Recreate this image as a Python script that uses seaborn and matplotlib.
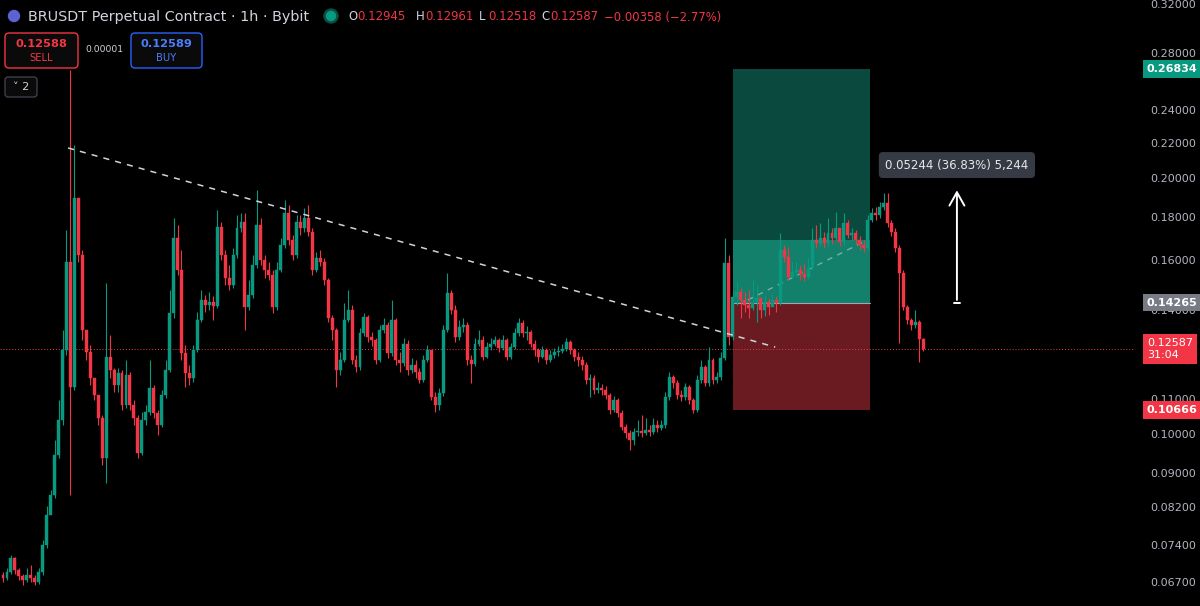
import matplotlib
matplotlib.use("Agg")
import matplotlib.pyplot as plt
import matplotlib.transforms as mtransforms
from matplotlib.patches import Rectangle, FancyBboxPatch, Circle
import numpy as np
import pandas as pd
import seaborn as sns

# ---- data (1h candles) ----
first_open = 0.0683
closes = [
    0.0678, 0.0688, 0.0715, 0.0692, 0.0681, 0.0674, 0.0683, 0.0678, 0.0670, 0.0688,
    0.0741, 0.0803, 0.0847, 0.0945, 0.1038, 0.1255, 0.1592, 0.1135, 0.1893, 0.1623,
    0.1325, 0.1248, 0.1163, 0.1111, 0.1044, 0.0937, 0.1231, 0.1189, 0.1141, 0.1179,
    0.1082, 0.1173, 0.1082, 0.1044, 0.0950, 0.1038, 0.1061, 0.1132, 0.1058, 0.1025,
    0.1111, 0.1189, 0.1387, 0.1699, 0.1558, 0.1245, 0.1179, 0.1163, 0.1255, 0.1361,
    0.1437, 0.1418, 0.1429, 0.1414, 0.1750, 0.1623, 0.1525, 0.1496, 0.1623, 0.1745,
    0.1774, 0.1410, 0.1456, 0.1580, 0.1760, 0.1601, 0.1558, 0.1537, 0.1410, 0.1558,
    0.1667, 0.1818, 0.1690, 0.1623, 0.1774, 0.1745, 0.1794, 0.1727, 0.1558, 0.1610,
    0.1592, 0.1517, 0.1369, 0.1325, 0.1189, 0.1221, 0.1361, 0.1398, 0.1221, 0.1199,
    0.1314, 0.1373, 0.1300, 0.1289, 0.1221, 0.1325, 0.1343, 0.1245, 0.1361, 0.1221,
    0.1211, 0.1276, 0.1189, 0.1205, 0.1182, 0.1157, 0.1221, 0.1255, 0.1105, 0.1082,
    0.1117, 0.1325, 0.1464, 0.1398, 0.1300, 0.1336, 0.1343, 0.1221, 0.1208, 0.1276,
    0.1289, 0.1231, 0.1265, 0.1276, 0.1289, 0.1262, 0.1289, 0.1231, 0.1265, 0.1314,
    0.1350, 0.1314, 0.1318, 0.1276, 0.1255, 0.1231, 0.1255, 0.1221, 0.1238, 0.1248,
    0.1251, 0.1258, 0.1282, 0.1255, 0.1231, 0.1221, 0.1205, 0.1157, 0.1163, 0.1126,
    0.1132, 0.1126, 0.1111, 0.1067, 0.1096, 0.1058, 0.1018, 0.1002, 0.0984, 0.1005,
    0.1008, 0.1002, 0.1011, 0.1005, 0.1025, 0.1016, 0.1025, 0.1105, 0.1166, 0.1147,
    0.1111, 0.1105, 0.1135, 0.1096, 0.1067, 0.1157, 0.1199, 0.1147, 0.1221, 0.1157,
    0.1166, 0.1228, 0.1588, 0.1300, 0.1449, 0.1468, 0.1437, 0.1418, 0.1406, 0.1429,
    0.1445, 0.1398, 0.1429, 0.1410, 0.1437, 0.1425, 0.1645, 0.1614, 0.1530, 0.1550,
    0.1558, 0.1541, 0.1530, 0.1567, 0.1690, 0.1676, 0.1699, 0.1676, 0.1722, 0.1699,
    0.1745, 0.1681, 0.1769, 0.1713, 0.1722, 0.1690, 0.1667, 0.1654, 0.1784, 0.1818,
    0.1808, 0.1848, 0.1868, 0.1769, 0.1727, 0.1654, 0.1546, 0.1410, 0.1361, 0.1343,
    0.1354, 0.12945, 0.12587,
]
highs = [
    0.0688, 0.0696, 0.0721, 0.0717, 0.0696, 0.0685, 0.0696, 0.0702, 0.0683, 0.0696,
    0.0751, 0.0824, 0.0859, 0.0984, 0.1096, 0.1325, 0.1736, 0.2680, 0.2185, 0.1883,
    0.1645, 0.1325, 0.1272, 0.1157, 0.1111, 0.1053, 0.1504, 0.1307, 0.1195, 0.1195,
    0.1189, 0.1221, 0.1182, 0.1096, 0.1053, 0.1061, 0.1082, 0.1221, 0.1141, 0.1067,
    0.1126, 0.1221, 0.1476, 0.1794, 0.1760, 0.1645, 0.1272, 0.1205, 0.1272, 0.1391,
    0.1476, 0.1456, 0.1468, 0.1452, 0.1833, 0.1774, 0.1645, 0.1580, 0.1654, 0.1808,
    0.1818, 0.1818, 0.1517, 0.1623, 0.1935, 0.1794, 0.1623, 0.1592, 0.1558, 0.1592,
    0.1699, 0.1883, 0.1858, 0.1713, 0.1808, 0.1808, 0.1843, 0.1858, 0.1745, 0.1636,
    0.1645, 0.1610, 0.1525, 0.1380, 0.1332, 0.1248, 0.1425, 0.1476, 0.1418, 0.1238,
    0.1332, 0.1387, 0.1380, 0.1318, 0.1296, 0.1343, 0.1369, 0.1354, 0.1437, 0.1369,
    0.1248, 0.1296, 0.1289, 0.1228, 0.1221, 0.1195, 0.1238, 0.1272, 0.1248, 0.1120,
    0.1132, 0.1343, 0.1546, 0.1476, 0.1418, 0.1361, 0.1369, 0.1354, 0.1238, 0.1296,
    0.1325, 0.1303, 0.1282, 0.1296, 0.1303, 0.1296, 0.1307, 0.1296, 0.1279, 0.1332,
    0.1369, 0.1361, 0.1339, 0.1325, 0.1289, 0.1262, 0.1269, 0.1262, 0.1255, 0.1262,
    0.1269, 0.1276, 0.1296, 0.1289, 0.1262, 0.1248, 0.1235, 0.1215, 0.1176, 0.1173,
    0.1151, 0.1144, 0.1138, 0.1117, 0.1108, 0.1101, 0.1067, 0.1028, 0.1011, 0.1016,
    0.1038, 0.1053, 0.1044, 0.1025, 0.1044, 0.1038, 0.1038, 0.1120, 0.1182, 0.1173,
    0.1157, 0.1126, 0.1147, 0.1141, 0.1101, 0.1173, 0.1221, 0.1205, 0.1265, 0.1228,
    0.1182, 0.1248, 0.1699, 0.1623, 0.1476, 0.1508, 0.1484, 0.1468, 0.1476, 0.1517,
    0.1496, 0.1437, 0.1456, 0.1445, 0.1460, 0.1452, 0.1722, 0.1667, 0.1658, 0.1592,
    0.1592, 0.1580, 0.1584, 0.1610, 0.1745, 0.1760, 0.1769, 0.1727, 0.1794, 0.1745,
    0.1823, 0.1736, 0.1818, 0.1784, 0.1745, 0.1736, 0.1708, 0.1690, 0.1808, 0.1843,
    0.1848, 0.1873, 0.1920, 0.1920, 0.1784, 0.1745, 0.1667, 0.1558, 0.1418, 0.1369,
    0.1398, 0.1361, 0.12961,
]
lows = [
    0.0670, 0.0674, 0.0685, 0.0685, 0.0674, 0.0665, 0.0670, 0.0670, 0.0665, 0.0667,
    0.0683, 0.0735, 0.0814, 0.0840, 0.0937, 0.1025, 0.1238, 0.0847, 0.1126, 0.1592,
    0.1289, 0.1221, 0.1141, 0.1096, 0.1025, 0.0920, 0.0876, 0.1163, 0.1120, 0.1120,
    0.1067, 0.1073, 0.1067, 0.1025, 0.0937, 0.0945, 0.1025, 0.1053, 0.1044, 0.0997,
    0.1018, 0.1101, 0.1182, 0.1369, 0.1537, 0.1221, 0.1135, 0.1141, 0.1151, 0.1248,
    0.1354, 0.1391, 0.1398, 0.1361, 0.1406, 0.1601, 0.1496, 0.1476, 0.1484, 0.1610,
    0.1727, 0.1325, 0.1398, 0.1445, 0.1567, 0.1580, 0.1525, 0.1517, 0.1387, 0.1398,
    0.1550, 0.1654, 0.1667, 0.1601, 0.1610, 0.1713, 0.1727, 0.1708, 0.1537, 0.1550,
    0.1575, 0.1496, 0.1354, 0.1289, 0.1135, 0.1173, 0.1215, 0.1354, 0.1208, 0.1182,
    0.1189, 0.1303, 0.1282, 0.1269, 0.1208, 0.1215, 0.1314, 0.1228, 0.1235, 0.1205,
    0.1182, 0.1202, 0.1173, 0.1179, 0.1163, 0.1147, 0.1151, 0.1215, 0.1096, 0.1061,
    0.1067, 0.1108, 0.1318, 0.1384, 0.1282, 0.1289, 0.1318, 0.1205, 0.1147, 0.1202,
    0.1269, 0.1221, 0.1228, 0.1255, 0.1269, 0.1248, 0.1255, 0.1221, 0.1225, 0.1258,
    0.1303, 0.1300, 0.1289, 0.1265, 0.1235, 0.1215, 0.1228, 0.1208, 0.1215, 0.1228,
    0.1235, 0.1245, 0.1251, 0.1241, 0.1218, 0.1202, 0.1189, 0.1144, 0.1105, 0.1114,
    0.1117, 0.1111, 0.1099, 0.1055, 0.1061, 0.1047, 0.1011, 0.0990, 0.0957, 0.0971,
    0.0994, 0.0992, 0.0997, 0.0994, 0.1000, 0.1005, 0.1011, 0.1016, 0.1096, 0.1132,
    0.1099, 0.1093, 0.1096, 0.1085, 0.1058, 0.1061, 0.1147, 0.1138, 0.1138, 0.1144,
    0.1147, 0.1157, 0.1221, 0.1272, 0.1289, 0.1418, 0.1369, 0.1391, 0.1369, 0.1398,
    0.1354, 0.1369, 0.1376, 0.1380, 0.1414, 0.1391, 0.1418, 0.1592, 0.1517, 0.1525,
    0.1533, 0.1517, 0.1513, 0.1521, 0.1558, 0.1654, 0.1663, 0.1654, 0.1663, 0.1672,
    0.1690, 0.1663, 0.1667, 0.1699, 0.1690, 0.1672, 0.1645, 0.1636, 0.1645, 0.1774,
    0.1784, 0.1794, 0.1833, 0.1750, 0.1708, 0.1636, 0.1279, 0.1398, 0.1347, 0.1325,
    0.1332, 0.1215, 0.12518,
]

# position tool / annotations (bar index, price)
last_price = 0.12587
entry_price = 0.14265
target_price = 0.26834
stop_price = 0.10666
reached_price = 0.1690
box_start, box_end = 184.0, 218.6
trend_x = [16.4, 194.7]
trend_y = [0.2168, 0.1265]
path_x = [187.8, 217.9]
path_y = [0.1437, 0.1690]
measure_x = 240.5
measure_top = 0.1948
measure_label_y = 0.2070
price_ticks = [0.32, 0.28, 0.24, 0.22, 0.20, 0.18, 0.16, 0.14, 0.11, 0.10,
               0.09, 0.082, 0.074, 0.067]

GREEN = "#089981"
RED = "#f23645"
AXIS_TXT = "#b2b5be"

df = pd.DataFrame({"close": closes, "high": highs, "low": lows})
df["open"] = [first_open] + closes[:-1]
df["idx"] = np.arange(len(df))
df["up"] = df["close"] >= df["open"]

sns.set_theme(style="dark", rc={"axes.facecolor": "#000000",
                                "figure.facecolor": "#000000",
                                "savefig.facecolor": "#000000"})
plt.rcParams["font.family"] = ["DejaVu Sans"]

fig = plt.figure(figsize=(12, 6.06), dpi=100)
ax = fig.add_axes([0, 0, 1135 / 1200, 1])
ax.set_yscale("log")
ax.set_xlim(-0.76, 285.4)
ax.set_ylim(0.0628, 0.3235)

# risk / reward box
ax.add_patch(Rectangle((box_start, entry_price), box_end - box_start,
                       target_price - entry_price, color="#0a4a3e", lw=0, zorder=1))
ax.add_patch(Rectangle((box_start, entry_price), box_end - box_start,
                       reached_price - entry_price, color="#13806b", lw=0, zorder=1.1))
ax.add_patch(Rectangle((box_start, stop_price), box_end - box_start,
                       entry_price - stop_price, color="#6a1b21", lw=0, zorder=1))
ax.plot([box_start, box_end], [entry_price, entry_price], color="#a3a6af", lw=0.8, zorder=1.2)

# last price dotted line
ax.axhline(last_price, color=RED, lw=0.7, ls=(0, (1, 2)), zorder=1.5)

# candles
for up, sub in df.groupby("up"):
    col = GREEN if up else RED
    ax.vlines(sub["idx"], sub["low"], sub["high"], color=col, lw=0.8, zorder=3)
    bottom = np.minimum(sub["open"], sub["close"])
    height = np.abs(sub["close"] - sub["open"])
    ax.bar(sub["idx"], height, bottom=bottom, width=0.74, color=col,
           edgecolor=col, linewidth=0.3, zorder=3.1)

# trend line + trade path
sns.lineplot(x=trend_x, y=trend_y, ax=ax, color="#d1d4dc", lw=1.1,
             linestyle=(0, (4, 4)), zorder=4)
sns.lineplot(x=path_x, y=path_y, ax=ax, color="#9fc9bd", lw=1.0, alpha=0.7,
             linestyle=(0, (4, 4)), zorder=2)

# measure arrow and label
ax.annotate("", xy=(measure_x, measure_top), xytext=(measure_x, entry_price),
            arrowprops=dict(arrowstyle="->,head_width=0.45,head_length=0.8",
                            color="white", lw=1.4), zorder=5)
ax.plot([measure_x - 0.8, measure_x + 0.8], [entry_price, entry_price],
        color="white", lw=1.4, zorder=5)
ax.text(measure_x, measure_label_y, "0.05244 (36.83%) 5,244", ha="center",
        va="center", color="#e6e7ea", fontsize=8.5, zorder=6,
        bbox=dict(boxstyle="round,pad=0.55,rounding_size=0.35",
                  fc="#363a45", ec="none"))

# right price scale
ax.yaxis.tick_right()
ax.yaxis.set_major_locator(matplotlib.ticker.FixedLocator(price_ticks))
ax.yaxis.set_minor_locator(matplotlib.ticker.NullLocator())
ax.yaxis.set_major_formatter(matplotlib.ticker.FormatStrFormatter("%.5f"))
ax.tick_params(axis="y", length=0, pad=11, labelsize=8, labelcolor=AXIS_TXT)
ax.set_xticks([])
ax.grid(False)
sns.despine(ax=ax, left=True, bottom=True, right=True, top=True)

badge_tr = mtransforms.blended_transform_factory(ax.transAxes, ax.transData)
badges = [(target_price, "0.26834", GREEN), (entry_price, "0.14265", "#787b86"),
          (last_price, "0.12587\n31:04", RED), (stop_price, "0.10666", RED)]
for y, label, bg in badges:
    ax.text(1.0105, y, label, transform=badge_tr, ha="left", va="center",
            fontsize=8, color="white", fontweight="bold" if "\n" not in label else "normal",
            linespacing=1.25, clip_on=False, zorder=10,
            bbox=dict(boxstyle="square,pad=0.34", fc=bg, ec="none"))

# header overlay (pixel coordinates)
ov = fig.add_axes([0, 0, 1, 1], zorder=20)
ov.set_xlim(0, 1200)
ov.set_ylim(606, 0)
ov.axis("off")
ov.patch.set_alpha(0)

ov.add_patch(Circle((14, 16), 5.5, color="#5b63d3"))
ov.text(28, 16.5, "BRUSDT Perpetual Contract \u00b7 1h \u00b7 Bybit", color="#d1d4dc",
        fontsize=10.4, va="center", ha="left")
ov.add_patch(Circle((331, 16), 7, color="#0b4f44"))
ov.add_patch(Circle((331, 16), 4.5, color=GREEN))

ohlc = [(348, "O", "0.12945"), (416, "H", "0.12961"), (479, "L", "0.12518"),
        (541, "C", "0.12587")]
for x0, letter, val in ohlc:
    ov.text(x0, 17, letter, color="#d1d4dc", fontsize=8.4, va="center", ha="left")
    ov.text(x0 + 9.5, 17, val, color=RED, fontsize=8.4, va="center", ha="left")
ov.text(604, 17, "\u22120.00358 (\u22122.77%)", color=RED, fontsize=8.4,
        va="center", ha="left")

ov.add_patch(FancyBboxPatch((5, 33), 73, 35, boxstyle="round,pad=0,rounding_size=4",
                            fc="#0a0a0a", ec=RED, lw=1.0))
ov.text(41.5, 44, "0.12588", color=RED, fontsize=8.2, fontweight="bold",
        ha="center", va="center")
ov.text(41.5, 58, "SELL", color=RED, fontsize=7.2, ha="center", va="center")
ov.text(104, 50, "0.00001", color="#d1d4dc", fontsize=6.6, ha="center", va="center")
ov.add_patch(FancyBboxPatch((131, 33), 71, 35, boxstyle="round,pad=0,rounding_size=4",
                            fc="#0a0a0a", ec="#2962ff", lw=1.0))
ov.text(166.5, 44, "0.12589", color="#4a7dff", fontsize=8.2, fontweight="bold",
        ha="center", va="center")
ov.text(166.5, 58, "BUY", color="#4a7dff", fontsize=7.2, ha="center", va="center")
ov.add_patch(FancyBboxPatch((5, 77), 32, 20, boxstyle="round,pad=0,rounding_size=3",
                            fc="#0a0a0a", ec="#434651", lw=0.9))
ov.text(21, 87, "\u02c5 2", color="#d1d4dc", fontsize=8, ha="center", va="center")

fig.savefig("out.png", dpi=100, facecolor="#000000")
